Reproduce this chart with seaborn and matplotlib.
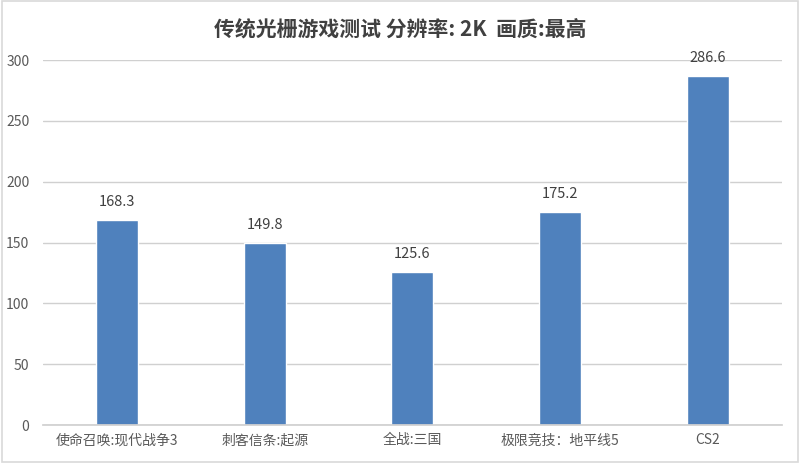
import matplotlib
matplotlib.use("Agg")
import matplotlib.pyplot as plt
import seaborn as sns
import pandas as pd
from matplotlib.patches import Rectangle

games = ["使命召唤:现代战争3", "刺客信条:起源", "全战:三国", "极限竞技：地平线5", "CS2"]
fps = [168.3, 149.8, 125.6, 175.2, 286.6]
yticks = [0, 50, 100, 150, 200, 250, 300]
title = "传统光栅游戏测试 分辨率: 2K  画质:最高"

sns.set_theme(style="white")
plt.rcParams['font.family'] = ['Noto Sans CJK SC', 'DejaVu Sans']

df = pd.DataFrame({"game": games, "fps": fps})

fig = plt.figure(figsize=(8, 4.63), dpi=100)
ax = fig.add_axes([0.054, 0.082, 0.923, 0.788])
sns.barplot(data=df, x="game", y="fps", color="#4F81BD", saturation=1, width=0.285, ax=ax)

ax.set_ylim(0, 300)
ax.set_yticks(yticks)
ax.set_yticklabels([str(v) for v in yticks], fontsize=10, color="#595959")
ax.tick_params(axis="x", labelsize=10, labelcolor="#595959", length=0, pad=6)
ax.tick_params(axis="y", length=0, pad=10)
ax.yaxis.grid(True, color="#D0D0D0", linewidth=1)
ax.set_axisbelow(True)
for s in ["top", "right", "left"]:
    ax.spines[s].set_visible(False)
ax.spines["bottom"].set_color("#D0D0D0")
ax.set_xlabel("")
ax.set_ylabel("")

for c in ax.containers:
    ax.bar_label(c, labels=[f"{v:.1f}" for v in fps], padding=8, fontsize=10.5, color="#404040")

fig.suptitle(title, y=0.96, fontsize=15, fontweight="bold", color="#404040")
fig.patches.append(Rectangle((0.002, 0.002), 0.996, 0.996, transform=fig.transFigure,
                             fill=False, edgecolor="#D9D9D9", linewidth=1.2))
fig.savefig("out.png", dpi=100)
